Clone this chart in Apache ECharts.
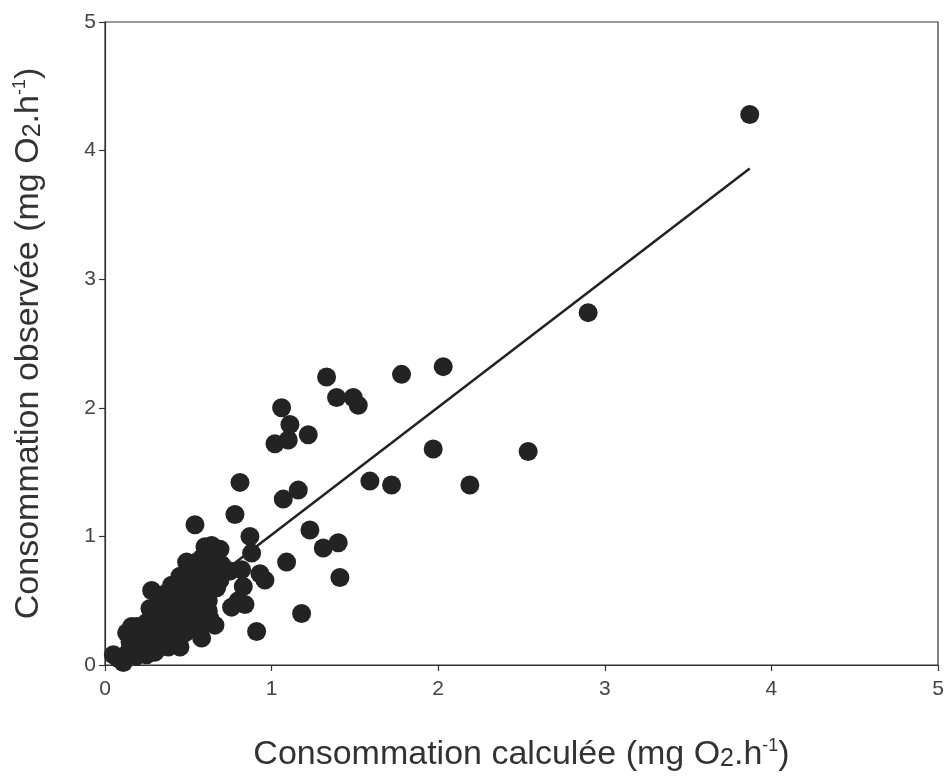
<!DOCTYPE html>
<html>
<head>
<meta charset="utf-8">
<script src="https://cdn.jsdelivr.net/npm/echarts@6/dist/echarts.min.js"></script>
<style>html,body{margin:0;padding:0;background:#fff}#c{width:946px;height:779px}</style>
</head>
<body>
<div id="c"></div>
<script>
const xTicks = [0, 1, 2, 3, 4, 5];
const yTicks = [0, 1, 2, 3, 4, 5];
const obsPoints = [
  [3.87,4.28],[2.90,2.74],[2.54,1.66],[2.19,1.40],[1.97,1.68],[2.03,2.32],[1.78,2.26],
  [1.72,1.40],[1.59,1.43],[1.33,2.24],[1.39,2.08],[1.49,2.08],[1.52,2.02],[1.06,2.00],
  [1.11,1.87],[1.22,1.79],[1.02,1.72],[1.10,1.75],[0.81,1.42],[1.07,1.29],[1.16,1.36],
  [0.78,1.17],[0.54,1.09],[0.87,1.00],[0.88,0.87],[1.23,1.05],[1.31,0.91],[1.40,0.95],
  [1.09,0.80],[0.93,0.71],[0.96,0.66],[1.41,0.68],[0.82,0.74],[0.83,0.61],[0.84,0.47],
  [1.18,0.40],[0.91,0.26],
  [0.64,0.93],[0.69,0.90],[0.49,0.80],[0.58,0.83],[0.45,0.69],[0.75,0.73],
  [0.66,0.31],[0.58,0.21],[0.76,0.45],[0.69,0.66],[0.61,0.61],[0.55,0.80],[0.65,0.76],
  [0.43,0.56],[0.47,0.43],[0.51,0.30],[0.41,0.22],[0.45,0.14],[0.55,0.48],[0.59,0.40],
  [0.28,0.58],[0.27,0.44],[0.05,0.08],[0.11,0.02],[0.17,0.14],[0.13,0.25],[0.19,0.30],
  [0.27,0.25],[0.33,0.14],[0.25,0.08],[0.39,0.30],[0.37,0.40],[0.43,0.51],[0.37,0.56],
  [0.47,0.61],[0.51,0.40],[0.19,0.07],[0.35,0.20],
  [0.15,0.18],[0.22,0.20],[0.30,0.33],[0.33,0.24],[0.40,0.45],[0.48,0.52],[0.53,0.56],
  [0.54,0.62],[0.62,0.50],[0.64,0.85],[0.70,0.78],[0.52,0.72],[0.60,0.92],[0.42,0.35],
  [0.30,0.10],[0.22,0.12],[0.08,0.05],[0.14,0.10],[0.36,0.30],[0.48,0.25],[0.55,0.35],
  [0.62,0.42],[0.80,0.50],[0.20,0.25],[0.16,0.30],
  [0.35,0.50],[0.40,0.62],[0.45,0.30],[0.50,0.60],[0.52,0.45],[0.57,0.55],[0.60,0.70],
  [0.67,0.60],[0.44,0.40],[0.33,0.38],[0.25,0.33],[0.23,0.15],[0.28,0.18],[0.38,0.14],
  [0.31,0.45],[0.56,0.27],[0.63,0.36]
];
const fitLine = [[0.07,0.09],[3.87,3.86]];

const chart = echarts.init(document.getElementById('c'), null, {renderer:'canvas'});
const FF = 'Liberation Sans, Arial, sans-serif';
const titleRich = {
  a: {fontSize: 34, color: '#333', fontFamily: FF},
  sub: {fontSize: 25, color: '#333', fontFamily: FF, padding: [8,0,0,0]},
  sup: {fontSize: 18, color: '#333', fontFamily: FF, padding: [0,0,18,0]}
};
const axisCommon = {
  type: 'value', min: 0, max: 5, interval: 1,
  axisLine: {show: true, onZero: false, lineStyle: {color: '#333', width: 1.2}},
  axisTick: {show: true, inside: false, length: 6, lineStyle: {color: '#333', width: 1.2}},
  splitLine: {show: false},
  axisLabel: {color: '#444', fontSize: 21, fontFamily: FF},
  nameLocation: 'middle',
  nameTextStyle: {rich: titleRich}
};
chart.setOption({
  animation: false,
  backgroundColor: '#fff',
  grid: {left: 105, right: 8, top: 22, bottom: 114, outerBoundsMode: 'none', containLabel: false,
         show: true, borderColor: '#333', borderWidth: 1.2, backgroundColor: 'transparent'},
  xAxis: Object.assign({}, axisCommon, {
    name: '{a|Consommation calculée (mg O}{sub|2}{a|.h}{sup|-1}{a|)}',
    nameGap: 72,
    axisLabel: Object.assign({}, axisCommon.axisLabel, {margin: 14})
  }),
  yAxis: Object.assign({}, axisCommon, {
    name: '{a|Consommation observée (mg O}{sub|2}{a|.h}{sup|-1}{a|)}',
    nameGap: 58,
    nameRotate: 90,
    axisLabel: Object.assign({}, axisCommon.axisLabel, {margin: 9})
  }),
  series: [
    {type: 'line', data: fitLine, symbol: 'none', lineStyle: {color: '#222', width: 2.5}, z: 1},
    {type: 'scatter', data: obsPoints, symbol: 'circle', symbolSize: 19, itemStyle: {color: '#232323', opacity: 1}, z: 2}
  ]
});
</script>
</body>
</html>
